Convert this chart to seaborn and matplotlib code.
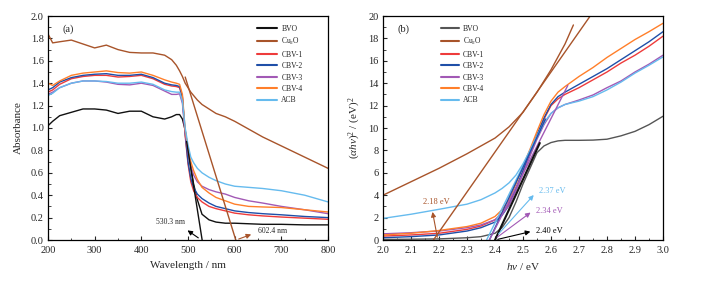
import numpy as np
import pandas as pd
import seaborn as sns
import matplotlib.pyplot as plt
from matplotlib.ticker import MultipleLocator

# ---- (a) UV-vis absorbance ----
wavelength = [200, 210, 225, 250, 275, 300, 325, 350, 375, 400, 425, 450, 465, 475, 482,
              488, 494, 500, 506, 512, 520, 530, 545, 560, 580, 600, 630, 660, 700, 750, 800]
abs_bvo = [1.02, 1.06, 1.11, 1.14, 1.17, 1.17, 1.16, 1.13, 1.15, 1.15, 1.10, 1.08, 1.10, 1.12, 1.12,
           1.08, 0.98, 0.80, 0.65, 0.50, 0.36, 0.23, 0.18, 0.16, 0.15, 0.15, 0.145, 0.14, 0.14, 0.135, 0.135]
abs_cu2o = [1.84, 1.76, 1.77, 1.785, 1.75, 1.715, 1.74, 1.70, 1.675, 1.67, 1.67, 1.65, 1.61, 1.56, 1.51,
            1.46, 1.40, 1.36, 1.32, 1.29, 1.25, 1.21, 1.17, 1.13, 1.10, 1.06, 0.99, 0.92, 0.84, 0.74, 0.64]
abs_cbv1 = [1.32, 1.34, 1.39, 1.44, 1.46, 1.47, 1.47, 1.455, 1.46, 1.47, 1.44, 1.39, 1.375, 1.37, 1.36,
            1.27, 0.93, 0.68, 0.52, 0.44, 0.38, 0.34, 0.30, 0.28, 0.26, 0.24, 0.225, 0.215, 0.205, 0.195, 0.185]
abs_cbv2 = [1.34, 1.36, 1.41, 1.45, 1.47, 1.48, 1.485, 1.47, 1.47, 1.48, 1.45, 1.40, 1.385, 1.38, 1.37,
            1.28, 0.95, 0.70, 0.55, 0.47, 0.41, 0.37, 0.33, 0.30, 0.28, 0.26, 0.245, 0.235, 0.225, 0.21, 0.20]
abs_cbv3 = [1.30, 1.32, 1.36, 1.40, 1.42, 1.42, 1.41, 1.39, 1.385, 1.40, 1.38, 1.33, 1.30, 1.30, 1.305,
            1.22, 0.95, 0.78, 0.66, 0.58, 0.52, 0.48, 0.45, 0.43, 0.41, 0.38, 0.35, 0.33, 0.30, 0.27, 0.235]
abs_cbv4 = [1.40, 1.38, 1.42, 1.47, 1.49, 1.50, 1.51, 1.495, 1.49, 1.50, 1.47, 1.43, 1.41, 1.40, 1.39,
            1.30, 0.98, 0.82, 0.70, 0.62, 0.54, 0.47, 0.42, 0.38, 0.35, 0.32, 0.30, 0.295, 0.29, 0.27, 0.25]
abs_acb = [1.29, 1.31, 1.36, 1.40, 1.42, 1.42, 1.415, 1.40, 1.40, 1.41, 1.39, 1.34, 1.325, 1.32, 1.32,
           1.24, 1.00, 0.85, 0.74, 0.69, 0.64, 0.60, 0.56, 0.53, 0.50, 0.48, 0.47, 0.46, 0.44, 0.40, 0.34]

# tangent lines (a)
tan_bvo_wl, tan_bvo_abs = [497, 530.3], [0.88, 0.0]
tan_cu2o_wl, tan_cu2o_abs = [494, 602.4], [1.455, 0.0]

# ---- (b) Tauc plot ----
energy = [2.0, 2.1, 2.2, 2.3, 2.35, 2.4, 2.425, 2.45, 2.475, 2.5, 2.525, 2.55, 2.575, 2.6,
          2.625, 2.65, 2.7, 2.75, 2.8, 2.85, 2.9, 2.95, 3.0]
tauc_bvo = [0.05, 0.07, 0.1, 0.2, 0.3, 0.6, 1.1, 2.0, 3.4, 5.0, 6.4, 7.8, 8.4, 8.7,
            8.85, 8.9, 8.9, 8.92, 9.0, 9.3, 9.7, 10.3, 11.05]
tauc_cbv1 = [0.35, 0.45, 0.6, 0.95, 1.25, 1.8, 2.4, 3.3, 4.6, 6.1, 7.7, 9.3, 10.8, 12.0,
             12.6, 13.0, 13.6, 14.3, 15.0, 15.8, 16.5, 17.3, 18.2]
tauc_cbv2 = [0.2, 0.3, 0.45, 0.8, 1.1, 1.6, 2.2, 3.1, 4.6, 6.2, 7.8, 9.4, 10.9, 12.1,
             12.8, 13.2, 13.9, 14.6, 15.3, 16.1, 16.9, 17.7, 18.6]
tauc_cbv3 = [0.55, 0.65, 0.8, 1.1, 1.35, 1.8, 2.3, 3.1, 4.4, 5.9, 7.5, 9.0, 10.3, 11.3,
             11.8, 12.1, 12.5, 12.95, 13.6, 14.2, 15.0, 15.7, 16.5]
tauc_cbv4 = [0.45, 0.6, 0.85, 1.2, 1.5, 2.1, 2.7, 3.6, 5.0, 6.6, 8.1, 9.7, 11.2, 12.4,
             13.2, 13.7, 14.6, 15.4, 16.3, 17.1, 17.9, 18.6, 19.35]
tauc_acb = [1.93, 2.3, 2.74, 3.2, 3.6, 4.2, 4.6, 5.1, 5.8, 6.8, 8.0, 9.3, 10.5, 11.3,
            11.8, 12.1, 12.4, 12.8, 13.4, 14.1, 14.9, 15.6, 16.35]
energy_cu2o = [2.0, 2.1, 2.2, 2.3, 2.4, 2.45, 2.5, 2.55, 2.6, 2.65, 2.68]
tauc_cu2o = [4.0, 5.2, 6.4, 7.7, 9.1, 10.1, 11.4, 13.2, 15.2, 17.5, 19.2]

# tangent lines (b)
tangents_b = {
    'Cu2O': ([2.18, 2.74], [0, 20.0]),
    'ACB': ([2.37, 2.58], [0, 10.7]),
    'CBV-2': ([2.38, 2.58], [0, 10.8]),
    'CBV-3': ([2.38, 2.66], [0, 13.8]),
    'BVO': ([2.40, 2.56], [0, 8.66]),
}

samples = ['BVO', 'Cu2O', 'CBV-1', 'CBV-2', 'CBV-3', 'CBV-4', 'ACB']
labels = ['BVO', 'Cu$_2$O', 'CBV-1', 'CBV-2', 'CBV-3', 'CBV-4', 'ACB']
colors_a = {'BVO': '#111111', 'Cu2O': '#A8542A', 'CBV-1': '#EE3B3B', 'CBV-2': '#1F4FA8',
            'CBV-3': '#A259B5', 'CBV-4': '#FF7F2A', 'ACB': '#66BBEE'}
colors_b = dict(colors_a, BVO='#555555')

sns.set_style('ticks')
plt.rcParams['font.family'] = ['Liberation Serif', 'DejaVu Serif']
plt.rcParams['mathtext.fontset'] = 'custom'
plt.rcParams['mathtext.rm'] = 'Liberation Serif'
plt.rcParams['mathtext.it'] = 'Liberation Serif:italic'
plt.rcParams['xtick.direction'] = 'in'
plt.rcParams['ytick.direction'] = 'in'

df_a = pd.concat([
    pd.DataFrame({'wl': wavelength, 'A': vals, 'sample': s})
    for s, vals in zip(samples, [abs_bvo, abs_cu2o, abs_cbv1, abs_cbv2, abs_cbv3, abs_cbv4, abs_acb])
])
df_b = pd.concat([
    pd.DataFrame({'E': x, 'T': vals, 'sample': s})
    for s, x, vals in zip(samples,
                          [energy, energy_cu2o, energy, energy, energy, energy, energy],
                          [tauc_bvo, tauc_cu2o, tauc_cbv1, tauc_cbv2, tauc_cbv3, tauc_cbv4, tauc_acb])
])

fig = plt.figure(figsize=(7.03, 2.82), dpi=100)
ax1 = fig.add_axes([48 / 703, 42 / 282, 280 / 703, 224 / 282])
ax2 = fig.add_axes([383 / 703, 42 / 282, 280 / 703, 224 / 282])

tick_fs = 7.5
label_fs = 8

# ---------- panel (a) ----------
sns.lineplot(data=df_a, x='wl', y='A', hue='sample', hue_order=samples, palette=colors_a,
             sort=False, lw=1.0, ax=ax1)
ax1.plot(tan_bvo_wl, tan_bvo_abs, color=colors_a['BVO'], lw=1.0)
ax1.plot(tan_cu2o_wl, tan_cu2o_abs, color=colors_a['Cu2O'], lw=1.0)
ax1.annotate('', xy=(494, 0.1), xytext=(527, 0.005),
             arrowprops=dict(arrowstyle='-|>', color='black', lw=0.8, mutation_scale=7))
ax1.text(462, 0.16, '530.3 nm', fontsize=5.5, ha='center', va='center')
ax1.annotate('', xy=(641, 0.058), xytext=(603, 0.0),
             arrowprops=dict(arrowstyle='-|>', color=colors_a['Cu2O'], lw=0.8, mutation_scale=7))
ax1.text(682, 0.08, '602.4 nm', fontsize=5.5, ha='center', va='center')
ax1.text(0.05, 0.94, '(a)', transform=ax1.transAxes, fontsize=7.5, va='center')

ax1.set_xlim(200, 800)
ax1.set_ylim(0, 2.0)
ax1.xaxis.set_major_locator(MultipleLocator(100))
ax1.xaxis.set_minor_locator(MultipleLocator(50))
ax1.yaxis.set_major_locator(MultipleLocator(0.2))
ax1.yaxis.set_minor_locator(MultipleLocator(0.1))
ax1.yaxis.set_major_formatter(plt.FormatStrFormatter('%.1f'))
ax1.set_xlabel('Wavelength / nm', fontsize=label_fs, labelpad=5)
ax1.set_ylabel('Absorbance', fontsize=label_fs, labelpad=6)

h, l = ax1.get_legend_handles_labels()
for hh in h:
    hh.set_linewidth(1.5)
ax1.legend(h, labels, loc='upper left', bbox_to_anchor=(0.735, 0.975), frameon=False,
           fontsize=5.5, handlelength=2.7, handletextpad=0.5, labelspacing=0.45,
           borderaxespad=0)

# ---------- panel (b) ----------
sns.lineplot(data=df_b, x='E', y='T', hue='sample', hue_order=samples, palette=colors_b,
             sort=False, lw=1.0, ax=ax2)
for s, (xs, ys) in tangents_b.items():
    ax2.plot(xs, ys, color=colors_a[s], lw=1.5 if s == 'BVO' else 1.0)

arrows_b = [
    ('2.18 eV', colors_a['Cu2O'], (2.175, 2.75), (2.196, 0.0), (2.19, 3.35), 'center'),
    ('2.37 eV', colors_a['ACB'], (2.545, 4.2), (2.406, 0.36), (2.558, 4.4), 'left'),
    ('2.34 eV', colors_a['CBV-3'], (2.535, 2.6), (2.40, 0.1), (2.545, 2.6), 'left'),
    ('2.40 eV', 'black', (2.536, 0.8), (2.40, 0.0), (2.548, 0.8), 'left'),
]
for txt, c, head, tail, pos, ha in arrows_b:
    ax2.annotate('', xy=head, xytext=tail,
                 arrowprops=dict(arrowstyle='-|>', color=c, lw=0.8, mutation_scale=7))
    ax2.text(pos[0], pos[1], txt, color=c, fontsize=6, ha=ha, va='center')
ax2.text(0.05, 0.94, '(b)', transform=ax2.transAxes, fontsize=7.5, va='center')

ax2.set_xlim(2.0, 3.0)
ax2.set_ylim(0, 20)
ax2.xaxis.set_major_locator(MultipleLocator(0.1))
ax2.xaxis.set_minor_locator(MultipleLocator(0.05))
ax2.yaxis.set_major_locator(MultipleLocator(2))
ax2.yaxis.set_minor_locator(MultipleLocator(1))
ax2.xaxis.set_major_formatter(plt.FormatStrFormatter('%.1f'))
ax2.set_xlabel(r'$h\nu$ / eV', fontsize=label_fs, labelpad=5)
ax2.set_ylabel(r'$(\alpha h\nu)^2$ / (eV)$^2$', fontsize=label_fs, labelpad=4)

for ax in (ax1, ax2):
    ax.tick_params(which='major', labelsize=tick_fs, length=3, width=0.8)
    ax.tick_params(axis='x', which='major', pad=4)
    ax.tick_params(axis='y', which='major', pad=3)
    ax.tick_params(which='minor', length=1.8, width=0.6)
    for sp in ax.spines.values():
        sp.set_visible(True)
        sp.set_linewidth(0.9)
        sp.set_color('black')

h, l = ax2.get_legend_handles_labels()
for hh in h:
    hh.set_linewidth(1.5)
ax2.legend(h, labels, loc='upper left', bbox_to_anchor=(0.195, 0.975), frameon=False,
           fontsize=5.5, handlelength=2.4, handletextpad=0.5, labelspacing=0.45,
           borderaxespad=0)

fig.savefig('out.png', dpi=100)
